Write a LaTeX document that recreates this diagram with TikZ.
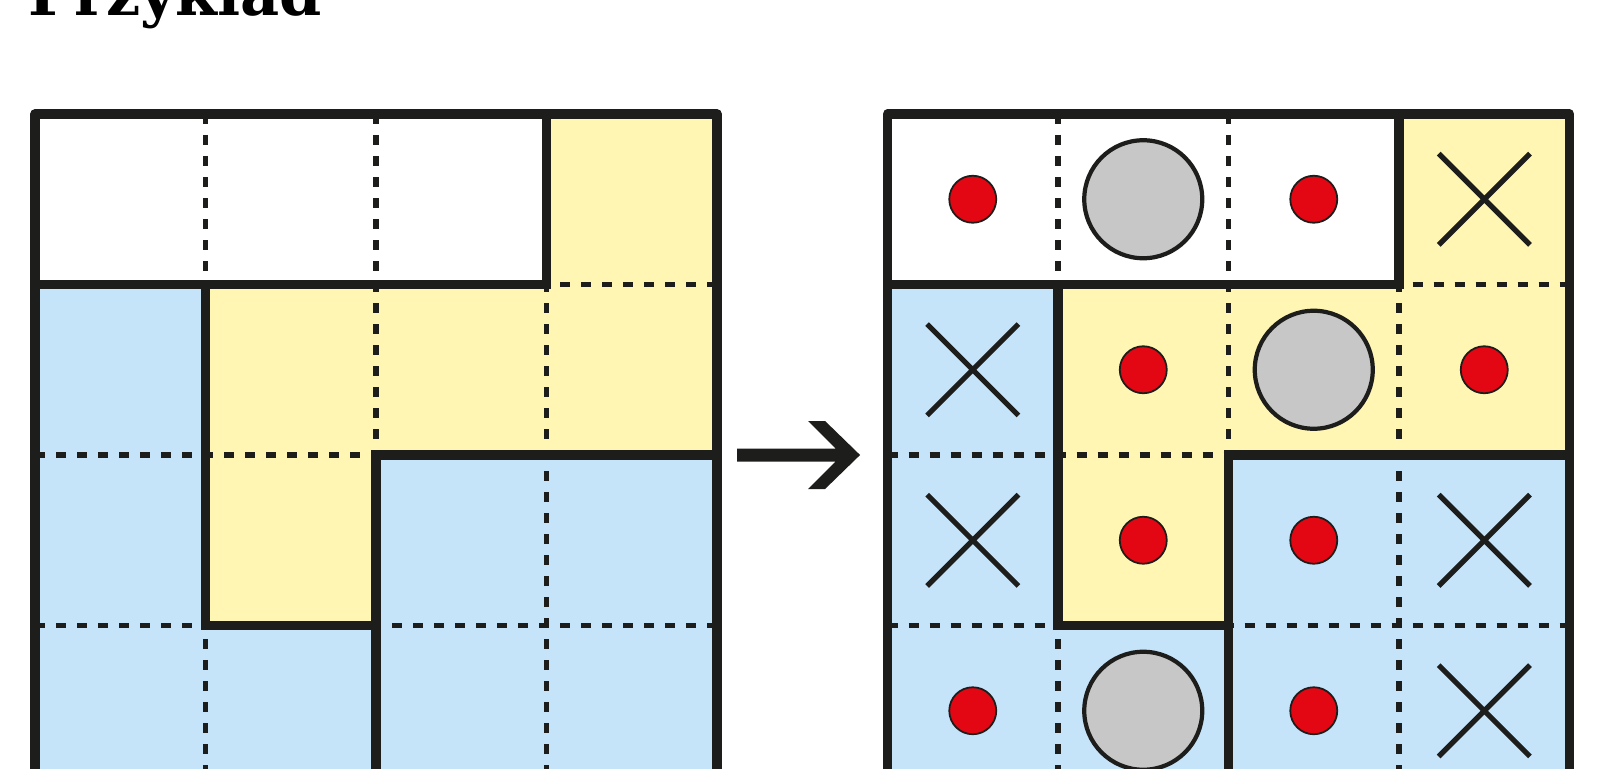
\documentclass[tikz,border=0pt]{standalone}
\usepackage{fontspec}
\setmainfont{DejaVu Serif}
\usetikzlibrary{shapes.misc}
\definecolor{ciemny}{RGB}{29,29,27}
\definecolor{jasnyniebieski}{RGB}{197,228,249}
\definecolor{jasnyzolty}{RGB}{255,246,180}
\definecolor{szary}{RGB}{200,199,200}
\definecolor{czerwony}{RGB}{227,6,19}
\tikzset{
  gruba/.style={draw=ciemny, line width=2.6pt},
  kreski/.style={draw=ciemny, line width=1.6pt, dash pattern=on 0.1cm off 0.11cm},
  kropka/.style={circle, draw=ciemny, line width=0.5pt, fill=czerwony, minimum size=0.47cm, inner sep=0pt},
  kolo/.style={circle, draw=ciemny, line width=1.2pt, fill=szary, minimum size=1.18cm, inner sep=0pt},
  krzyzyk/.style={cross out, draw=ciemny, line width=1.5pt, minimum size=0.86cm, inner sep=0pt},
}
\begin{document}
\begin{tikzpicture}[x=1.705cm, y=1.705cm]
\useasboundingbox (-0.35cm,1.14cm) rectangle (15.65cm,-6.54cm);
\clip (-0.35cm,1.14cm) rectangle (15.65cm,-6.54cm);
\node[anchor=base west, inner sep=0pt, font=\bfseries\fontsize{17.2}{20}\selectfont] (tytul) at (-0.07cm,0.98cm) {Przykład};
% dwie plansze: przed i po
\foreach \dx in {0,5} {
  \begin{scope}[shift={(\dx,0)}]
    \fill[jasnyniebieski] (0,0) rectangle (4,-4);
    \fill[white] (0,0) rectangle (3,-1);
    \fill[jasnyzolty] (3,0) -- (4,0) -- (4,-2) -- (2,-2) -- (2,-3) -- (1,-3) -- (1,-1) -- (3,-1) -- cycle;
    \foreach \i in {1,2,3} {
      \draw[kreski] (\i,0) -- (\i,-4);
      \draw[kreski] (0,-\i) -- (4,-\i);
    }
    \draw[gruba] (0,-1) -- (3,-1) -- (3,0);
    \draw[gruba] (1,-1) -- (1,-3) -- (2,-3);
    \draw[gruba] (2,-4) -- (2,-2) -- (4,-2);
    \draw[gruba, line join=round] (0,0) rectangle (4,-4);
  \end{scope}
}
% rozwiazanie
\foreach \w/\k in {0/0,0/2,1/1,1/3,2/1,2/2,3/0,3/2}
  \node[kropka] (kropka\w\k) at (5.5+\k,-0.5-\w) {};
\foreach \w/\k in {0/1,1/2,3/1}
  \node[kolo] (kolo\w\k) at (5.5+\k,-0.5-\w) {};
\foreach \w/\k in {0/3,1/0,2/0,2/3,3/3}
  \node[krzyzyk] (krzyzyk\w\k) at (5.5+\k,-0.5-\w) {};
% strzalka
\coordinate (grot) at (4.839,-2);
\fill[ciemny, shift={(grot)}] (0,0) -- (-0.35cm,0.34cm) -- (-0.52cm,0.34cm) -- (-0.245cm,0.065cm)
  -- (-1.23cm,0.065cm) -- (-1.23cm,-0.065cm) -- (-0.245cm,-0.065cm) -- (-0.52cm,-0.34cm)
  -- (-0.35cm,-0.34cm) -- cycle;
\end{tikzpicture}
\end{document}
